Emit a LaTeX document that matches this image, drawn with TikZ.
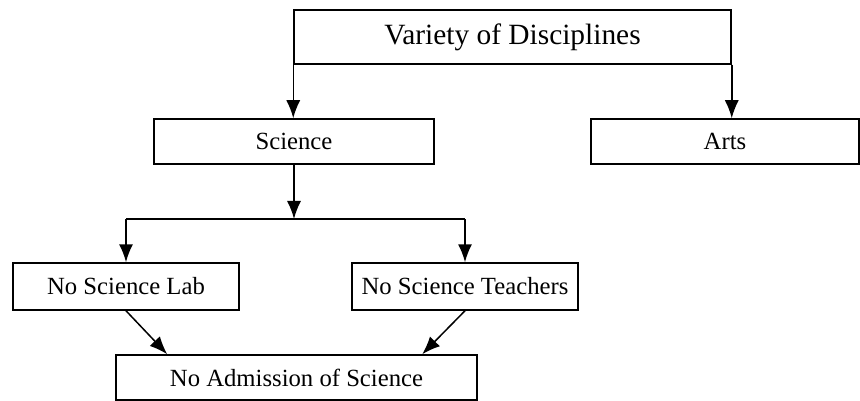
\documentclass[tikz,border=0pt]{standalone}
\usepackage{fontspec}
\setmainfont{Liberation Serif}
\usetikzlibrary{arrows.meta}
\begin{document}
\begin{tikzpicture}[x=1pt,y=1pt,line width=1.5pt,
    box/.style={draw,inner sep=0pt,minimum height=46pt,font=\fontsize{24.7}{28}\selectfont},
    arr/.style={-{Latex[length=18pt,width=14pt]}}]
  \useasboundingbox (0,0) rectangle (860,-401);

  \node[box,minimum width=437pt,minimum height=54pt,font=\fontsize{29.4}{33}\selectfont]
    (var) at (512.5,-37) {Variety of Disciplines};
  \node[box,minimum width=280pt,minimum height=45pt] (sci)  at (294,-141.5) {Science};
  \node[box,minimum width=268pt,minimum height=45pt] (arts) at (725,-141.5) {Arts};
  \node[box,minimum width=226pt,minimum height=47pt] (lab)   at (126,-286.5) {No Science Lab};
  \node[box,minimum width=226pt,minimum height=47pt] (teach) at (465,-286.5) {No Science Teachers};
  \node[box,minimum width=361pt,minimum height=45pt] (adm) at (296.5,-377.5) {No Admission of Science};

  \coordinate (split) at (294,-219);

  \draw[arr] (var.south west) -- (var.south west |- sci.north);
  \draw[arr] (var.south east) -- (var.south east |- arts.north);
  \draw[arr] (sci.south -| split) -- (split);
  \draw (lab.north |- split) -- (teach.north |- split);
  \draw[arr] (lab.north |- split) -- (lab.north);
  \draw[arr] (teach.north |- split) -- (teach.north);
  \draw[arr] (lab.south) -- ([xshift=52pt]adm.north west);
  \draw[arr] (teach.south) -- ([xshift=307pt]adm.north west);
\end{tikzpicture}
\end{document}
